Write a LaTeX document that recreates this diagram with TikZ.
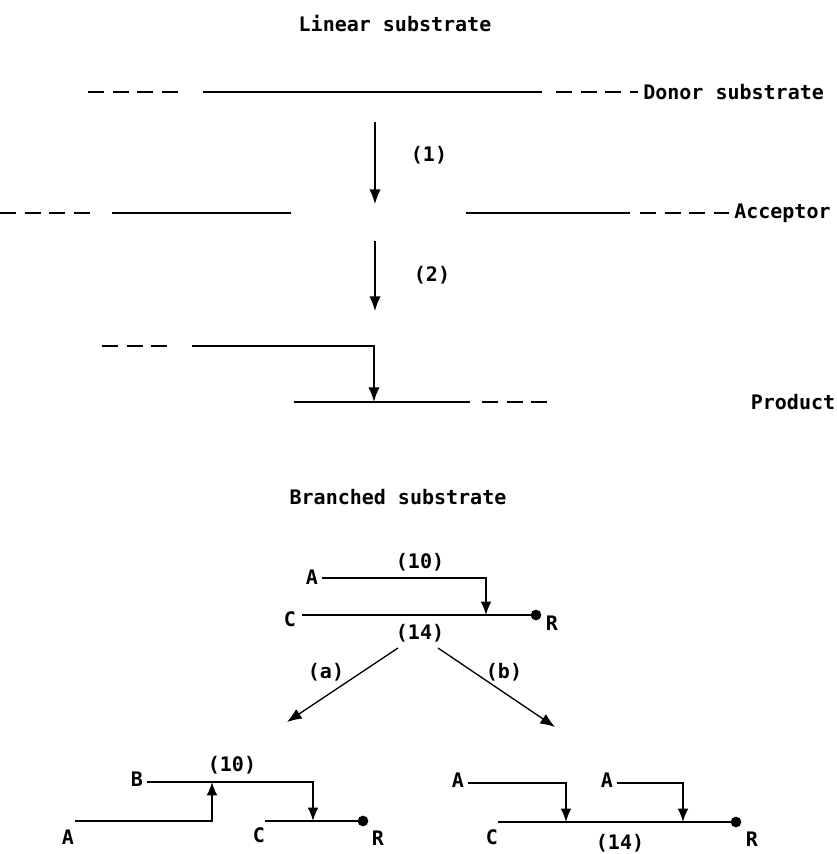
\documentclass[tikz,border=0pt]{standalone}
\usepackage{fontspec}
\setmonofont{DejaVu Sans Mono}
\usetikzlibrary{arrows.meta}
\usetikzlibrary{positioning}
\tikzset{lbl/.style = {font=\ttfamily\bfseries\fontsize{15}{17}\selectfont, inner sep=0}}
\tikzset{chain/.style = {line width=1.4pt}}
\tikzset{dashchain/.style = {line width=1.4pt, dash pattern=on 12pt off 6.5pt}}
\tikzset{tip/.style = {line width=1pt, -{Latex[length=11pt,width=8.5pt]}}}
\tikzset{smalltip/.style = {line width=1.2pt, -{Latex[length=10pt,width=8pt]}}}
\tikzset{dot/.style = {fill, circle, inner sep=0, minimum size=8pt}}

\begin{document}
\begin{tikzpicture}[x=0.75pt, y=-0.75pt]
  \useasboundingbox (0,0) rectangle (837,854);

  % linear substrate
  \node [lbl] (lintitle) at (395,24) {Linear substrate};

  \node [lbl, anchor=west] (donor) at (643,92) {Donor substrate};
  \draw [dashchain] (88,92) -- (178,92);
  \draw [chain] (203,92) -- (542,92);
  \draw [dashchain] (556,92) -- ([xshift=-4pt]donor.west);

  \coordinate (s1) at (375,122);
  \coordinate (e1) at (375,204);
  \draw [tip] (s1) -- (e1);
  \node [lbl] (r1) at (429,155) {(1)};

  \node [lbl, anchor=west] (acceptor) at (734,213) {Acceptor};
  \draw [dashchain] (0,213) -- (90,213);
  \draw [chain] (112,213) -- (291,213);
  \draw [chain] (466,213) -- (630,213);
  \draw [dashchain] (640,213) -- ([xshift=-4pt]acceptor.west);

  \coordinate (s2) at (375,241);
  \coordinate (e2) at (375,311);
  \draw [tip] (s2) -- (e2);
  \node [lbl] (r2) at (432,275) {(2)};

  \coordinate (pk) at (374,346);
  \coordinate (pj) at (374,402);
  \draw [dashchain] (102,346) -- (168,346);
  \draw [chain, -{Latex[length=11pt,width=8.5pt]}] (192,346) -- (pk) -- (pj);
  \draw [chain] (294,402) -- (470,402);
  \draw [dashchain] (482,402) -- (548,402);
  \node [lbl] (product) at (793,402) {Product};

  % branched substrate
  \node [lbl] (brtitle) at (398,497) {Branched substrate};

  \node [lbl] (ta) at (312,577) {A};
  \node [lbl] (tc) at (290,619) {C};
  \node [dot] (tr) at (536,615) {};
  \node [lbl] (trl) at (552,623) {R};
  \node [lbl] (t10) at (420,562) {(10)};
  \node [lbl] (t14) at (420,633) {(14)};
  \coordinate (tk) at (486,578);
  \coordinate (tj) at (486,615);
  \draw [chain] (302,615) -- (tr.center);
  \draw [smalltip] (322,578) -- (tk) -- (tj);

  \coordinate (ea) at (287,722);
  \coordinate (eb) at (555,727);
  \draw [tip] (398,648) -- (ea);
  \draw [tip] (438,648) -- (eb);
  \node [lbl] (la) at (326,672) {(a)};
  \node [lbl] (lb) at (504,672) {(b)};

  % product (a)
  \node [lbl] (ab) at (137,779) {B};
  \node [lbl] (aa) at (68,837) {A};
  \node [lbl] (ac) at (259,835) {C};
  \node [dot] (ar) at (363,821) {};
  \node [lbl] (arl) at (378,838) {R};
  \node [lbl] (a10) at (232,765) {(10)};
  \coordinate (ak) at (212,821);
  \coordinate (aj) at (212,782);
  \coordinate (bk) at (313,782);
  \coordinate (bj) at (313,821);
  \draw [smalltip] (75,821) -- (ak) -- (aj);
  \draw [smalltip] (147,782) -- (bk) -- (bj);
  \draw [chain] (265,821) -- (ar.center);

  % product (b)
  \node [lbl] (ba1) at (458,780) {A};
  \node [lbl] (ba2) at (607,780) {A};
  \node [lbl] (bc) at (492,837) {C};
  \node [dot] (br) at (736,822) {};
  \node [lbl] (brl) at (752,839) {R};
  \node [lbl] (b14) at (620,843) {(14)};
  \coordinate (ck) at (566,783);
  \coordinate (cj) at (566,822);
  \coordinate (dk) at (683,783);
  \coordinate (dj) at (683,822);
  \draw [smalltip] (468,783) -- (ck) -- (cj);
  \draw [smalltip] (617,783) -- (dk) -- (dj);
  \draw [chain] (498,822) -- (br.center);
\end{tikzpicture}
\end{document}
